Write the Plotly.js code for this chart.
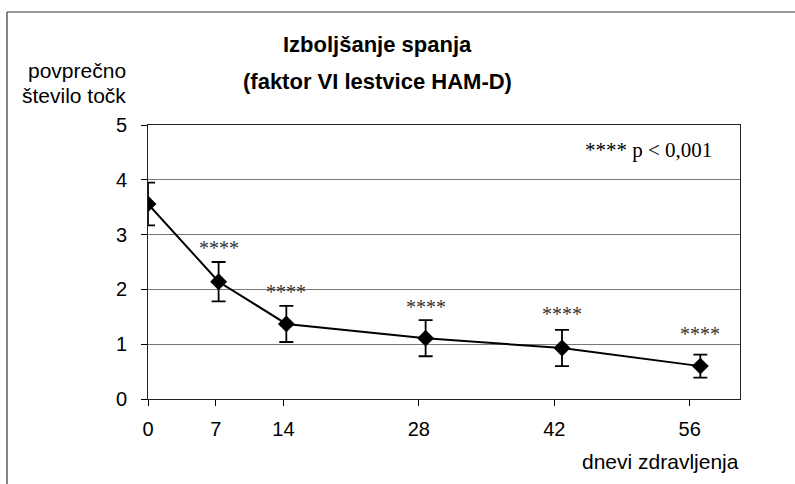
<!DOCTYPE html>
<html>
<head>
<meta charset="utf-8">
<script src="https://cdn.plot.ly/plotly-3.0.1.min.js"></script>
<style>html,body{margin:0;padding:0;background:#fff;}#chart{width:795px;height:484px;}</style>
</head>
<body>
<div id="chart"></div>
<script>
// Data
const days = [0, 7.3, 14.3, 28.7, 42.8, 57.1];
const meanScore = [3.56, 2.14, 1.37, 1.11, 0.93, 0.60];
const errScore = [0.39, 0.36, 0.33, 0.33, 0.33, 0.21];
const sigLabel = ['', '****', '****', '****', '****', '****'];
const sigY = [null, 2.76, 1.96, 1.68, 1.55, 1.19];
const tickVals = [0, 7, 14, 28, 42, 56];
const tickText = ['0', '7', '14', '28', '42', '56'];

const W = 795, H = 484, L = 148, R = 55, T = 125, B = 85;
const pw = W - L - R, ph = H - T - B;
const px = v => (v - L) / pw;
const py = v => (H - B - v) / ph;

const trace = {
  x: days, y: meanScore, type: 'scatter', mode: 'lines+markers',
  line: {color: '#000', width: 2},
  marker: {symbol: 'diamond', size: 13, color: '#000'},
  error_y: {type: 'data', array: errScore, visible: true, color: '#000', thickness: 1.8, width: 7},
  showlegend: false, hoverinfo: 'skip'
};

const serif = 'Liberation Serif, Times New Roman, serif';
const sans = 'Liberation Sans, Arial, sans-serif';
const annotations = [];
days.forEach((d, i) => {
  if (sigLabel[i]) annotations.push({x: d, y: sigY[i], xref: 'x', yref: 'y', xanchor: 'center', yanchor: 'middle',
    text: sigLabel[i], showarrow: false, font: {family: serif, size: 20, color: '#333'}});
});
function lab(x, y, text, xa, font) {
  return {x: px(x), y: py(y), xref: 'paper', yref: 'paper', xanchor: xa, yanchor: 'middle', text: text, showarrow: false, font: font};
}
annotations.push(
  lab(377, 45, '<b>Izboljšanje spanja</b>', 'center', {family: sans, size: 22, color: '#000'}),
  lab(377, 82, '<b>(faktor VI lestvice HAM-D)</b>', 'center', {family: sans, size: 22, color: '#000'}),
  lab(128, 70, 'povprečno', 'right', {family: sans, size: 21, color: '#000'}),
  lab(128, 95, 'število točk', 'right', {family: sans, size: 21, color: '#000'}),
  lab(741, 461, 'dnevi zdravljenja', 'right', {family: sans, size: 21, color: '#000'}),
  lab(714, 150, '**** p &lt; 0,001', 'right', {family: serif, size: 21, color: '#000'})
);

const layout = {
  width: W, height: H,
  margin: {l: L, r: R, t: T, b: B, pad: 0},
  paper_bgcolor: '#fff', plot_bgcolor: '#fff',
  font: {family: sans, size: 20, color: '#000'},
  xaxis: {range: [0, 61.2], tickvals: tickVals, ticktext: tickText, ticks: 'outside', ticklen: 6, tickcolor: '#000',
    ticklabelstandoff: 6,
    showgrid: false, zeroline: false, showline: true, linecolor: '#222', linewidth: 1, mirror: true,
    tickfont: {family: sans, size: 20, color: '#000'}, fixedrange: true},
  yaxis: {range: [0, 5], tickvals: [0, 1, 2, 3, 4, 5], ticks: 'outside', ticklen: 6, tickcolor: '#000',
    ticklabelstandoff: 10,
    showgrid: true, gridcolor: '#777', gridwidth: 1, zeroline: false, showline: true, linecolor: '#222', linewidth: 1, mirror: true,
    tickfont: {family: sans, size: 20, color: '#000'}, fixedrange: true},
  annotations: annotations,
  shapes: [
    {type: 'line', xref: 'paper', yref: 'paper', x0: px(7), x1: px(7), y0: py(12), y1: py(484), line: {color: '#333', width: 1.2}},
    {type: 'line', xref: 'paper', yref: 'paper', x0: px(7), x1: px(795), y0: py(12), y1: py(12), line: {color: '#333', width: 1.2}}
  ]
};

Plotly.newPlot('chart', [trace], layout, {staticPlot: true, displayModeBar: false});
</script>
</body>
</html>
